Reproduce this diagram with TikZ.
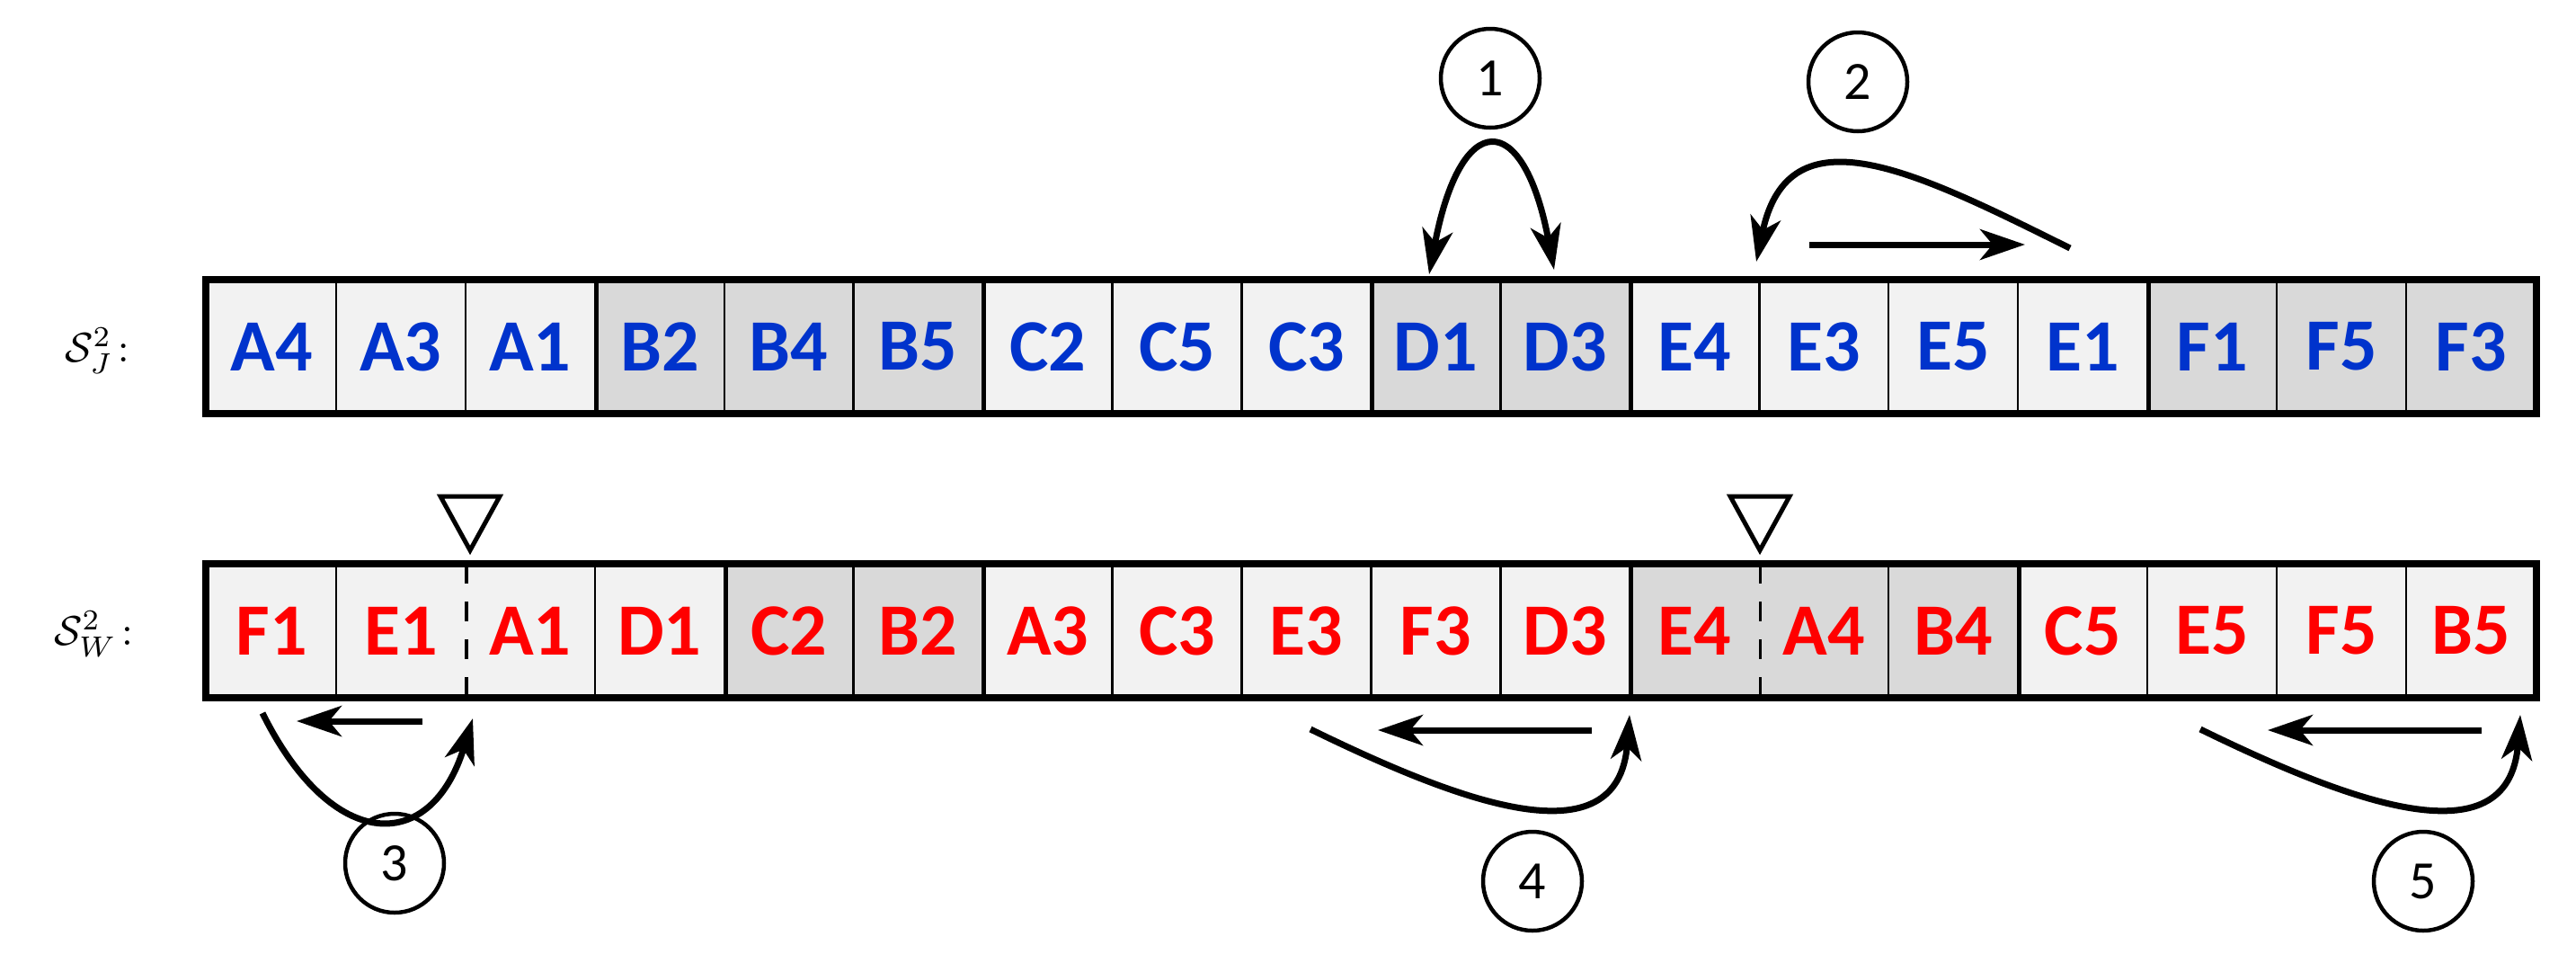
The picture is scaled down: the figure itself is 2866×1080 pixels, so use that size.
\documentclass[tikz,border=0pt]{standalone}
\usepackage{fontspec}
\setmainfont{Carlito}
\usetikzlibrary{arrows.meta}
\definecolor{lt}{HTML}{F2F2F2}
\definecolor{dk}{HTML}{D9D9D9}
\definecolor{bl}{HTML}{0033CC}
\definecolor{rd}{HTML}{FF0000}
\begin{document}
\begin{tikzpicture}[x=1pt,y=-1pt,
  cell/.style={minimum width=143.94pt,minimum height=146pt,inner sep=0pt,draw=black,line width=2.5pt,font=\fontsize{82}{90}\selectfont\bfseries},
  num/.style={circle,draw,line width=4.5pt,minimum size=110pt,inner sep=0pt,font=\fontsize{60}{66}\selectfont},
  arr/.style={line width=7pt,-{Stealth[length=50pt,width=34pt,inset=14pt]}},
  both/.style={line width=7pt,{Stealth[length=50pt,width=34pt,inset=14pt]}-{Stealth[length=50pt,width=34pt,inset=14pt]}},
  trimark/.style={draw,line width=5pt,line join=miter},
  lab/.style={inner sep=0pt}]
\useasboundingbox (0,0) rectangle (2866,1080);
% top row
\foreach \t/\c [count=\i] in {A4/lt,A3/lt,A1/lt,B2/dk,B4/dk,B5/dk,C2/lt,C5/lt,C3/lt,D1/dk,D3/dk,E4/lt,E3/lt,E5/lt,E1/lt,F1/dk,F5/dk,F3/dk}
  \node[cell,fill=\c,text=bl] (t\i) at ({230+143.94*(\i-0.5)},385.5) {\t};
\foreach \t/\c [count=\i] in {F1/lt,E1/lt,A1/lt,D1/lt,C2/dk,B2/dk,A3/lt,C3/lt,E3/lt,F3/lt,D3/lt,E4/dk,A4/dk,B4/dk,C5/lt,E5/lt,F5/lt,B5/lt}
  \node[cell,fill=\c,text=rd] (b\i) at ({230+143.94*(\i-0.5)},701.5) {\t};
% erase thin line at dashed positions
\fill[lt] ([xshift=-3pt,yshift=-3pt]b2.north east) rectangle ([xshift=3pt,yshift=3pt]b2.south east);
\fill[dk] ([xshift=-3pt,yshift=-3pt]b12.north east) rectangle ([xshift=3pt,yshift=3pt]b12.south east);
\foreach \k in {2,12}
  \draw[line width=3.5pt,dash pattern=on 22pt off 20pt] (b\k.north east) -- (b\k.south east);
% group separators
\foreach \k in {3,6,9,11,15}
  \draw[line width=5pt] (t\k.north east) -- (t\k.south east);
\foreach \k in {4,6,11,14}
  \draw[line width=5pt] (b\k.north east) -- (b\k.south east);
\draw[line width=8pt] (t1.north west) rectangle (t18.south east);
\draw[line width=8pt] (b1.north west) rectangle (b18.south east);
% labels
\node[lab] (lj) at (108,390) {\scalebox{4.6}{$\mathcal{S}^2_J\!:$}};
\node[lab] (lw) at (104,705) {\scalebox{4.6}{$\mathcal{S}^2_W\!:$}};
% triangles
\draw[trimark] (490,552) -- (556,552) -- (523,612) -- cycle;
\draw[trimark] (1925,552) -- (1991,552) -- (1958,612) -- cycle;
% numbers
\node[num] (n1) at (1658,87) {1};
\node[num] (n2) at (2067,91) {2};
\node[num] (n3) at (439,960) {3};
\node[num] (n4) at (1705,980) {4};
\node[num] (n5) at (2696,980) {5};
% arrows
\coordinate (a1s) at (1590,305); \coordinate (a1e) at (1729,300);
\draw[both] (a1s) .. controls (1625,120) and (1695,120) .. (a1e);
\coordinate (a2s) at (2303,276); \coordinate (a2e) at (1954,291);
\draw[arr] (a2s) .. controls (2130,190) and (1990,120) .. (a2e);
\coordinate (a2a) at (2013,272); \coordinate (a2b) at (2253,272);
\draw[arr] (a2a) -- (a2b);
\coordinate (a3a) at (470,802); \coordinate (a3b) at (330,802);
\draw[arr] (a3a) -- (a3b);
\coordinate (a3s) at (292,793); \coordinate (a3e) at (526,799);
\draw[arr] (a3s) .. controls (370,950) and (480,950) .. (a3e);
\coordinate (a4a) at (1771,812); \coordinate (a4b) at (1533,812);
\draw[arr] (a4a) -- (a4b);
\coordinate (a4s) at (1458,811); \coordinate (a4e) at (1813,795);
\draw[arr] (a4s) .. controls (1620,890) and (1800,960) .. (a4e);
\coordinate (a5a) at (2761,812); \coordinate (a5b) at (2523,812);
\draw[arr] (a5a) -- (a5b);
\coordinate (a5s) at (2448,811); \coordinate (a5e) at (2804,795);
\draw[arr] (a5s) .. controls (2610,890) and (2791,960) .. (a5e);
\end{tikzpicture}
\end{document}
